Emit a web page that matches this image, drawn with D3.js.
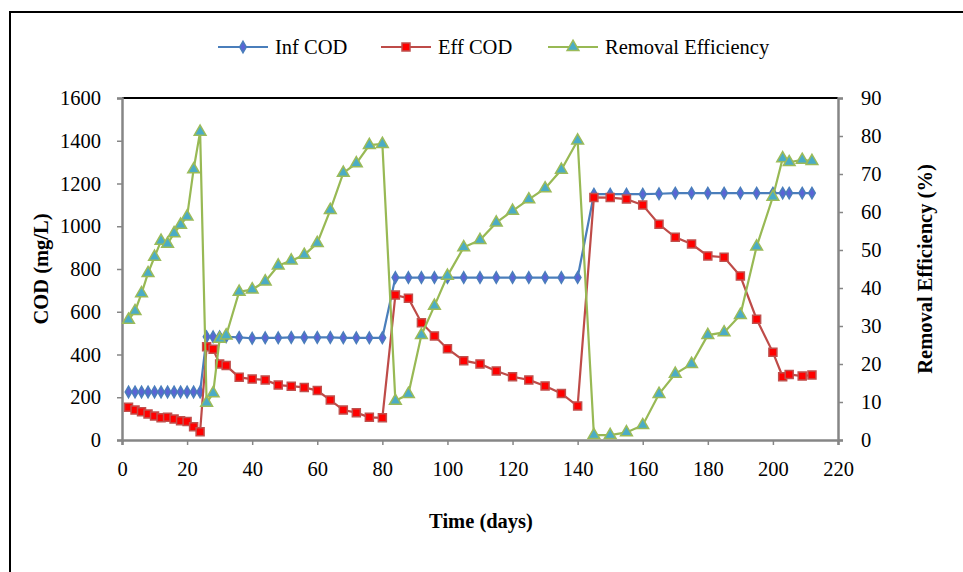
<!DOCTYPE html>
<html>
<head>
<meta charset="utf-8">
<script src="https://cdn.jsdelivr.net/npm/d3@7"></script>
<style>
  body { margin: 0; background: #fff; }
  text { font-family: "Liberation Serif", "Times New Roman", serif; }
</style>
</head>
<body>
<script>
// data
const days = [2, 4, 6, 8, 10, 12, 14, 16, 18, 20, 22, 24,
  26, 28, 30, 32, 36, 40, 44, 48, 52, 56, 60, 64, 68, 72, 76, 80,
  84, 88, 92, 96, 100, 105, 110, 115, 120, 125, 130, 135, 140,
  145, 150, 155, 160, 165, 170, 175, 180, 185, 190, 195, 200, 203, 205, 209, 212];
const infCOD = [225, 225, 225, 225, 225, 225, 225, 225, 225, 225, 225, 225,
  483, 483, 483, 483, 480, 476, 478, 478, 480, 480, 480, 480, 478, 478, 478, 478,
  760, 760, 760, 760, 760, 760, 760, 760, 760, 760, 760, 760, 760,
  1150, 1150, 1150, 1150, 1152, 1155, 1155, 1155, 1155, 1155, 1155, 1155, 1155, 1155, 1155, 1155];
const effCOD = [153, 140, 132, 122, 112, 104, 106, 98, 90, 86, 62, 39,
  436, 424, 356, 348, 293, 285, 281, 257, 252, 246, 231, 187, 140, 128, 106, 104,
  678, 663, 549, 487, 427, 371, 356, 323, 296, 281, 253, 218, 159,
  1135, 1134, 1127, 1099, 1009, 948, 917, 861, 855, 767, 565, 410, 296, 307, 299, 304];
const removal = [31.6, 33.9, 38.6, 43.9, 48.2, 52.4, 51.6, 54.4, 56.6, 58.8, 71.2, 81.1,
  9.8, 12.3, 26.6, 27.5, 39.0, 39.6, 41.7, 45.9, 47.2, 48.7, 51.8, 60.5, 70.3, 72.8, 77.6, 77.9,
  10.3, 12.1, 27.6, 35.3, 43.2, 50.7, 52.6, 57.2, 60.3, 63.3, 66.2, 71.1, 78.8,
  1.3, 1.3, 2.0, 3.9, 12.1, 17.4, 20.0, 27.6, 28.3, 32.9, 50.9, 64.0, 74.1, 73.1, 73.7, 73.4];
const xTicks = d3.range(0, 221, 20);
const yTicks = d3.range(0, 1601, 200);
const y2Ticks = d3.range(0, 91, 10);

// constants
const width = 963;
const height = 572;
const plotLeft = 122, plotRight = 838, plotTop = 98, plotBottom = 440;
const axisGrey = '#868686';
const fontSize = 20.5;

const x = d3.scaleLinear().domain([0, 220]).range([plotLeft, plotRight]);
const y = d3.scaleLinear().domain([0, 1600]).range([plotBottom, plotTop]);
const y2 = d3.scaleLinear().domain([0, 90]).range([plotBottom, plotTop]);

const svg = d3.select('body').append('svg')
  .attr('width', width)
  .attr('height', height);

// outer frame (runs off the right and bottom edges)
svg.append('rect')
  .attr('x', 10).attr('y', 12)
  .attr('width', 980).attr('height', 600)
  .attr('fill', 'none')
  .attr('stroke', '#000')
  .attr('stroke-width', 2);

// top edge of the plot area
svg.append('line')
  .attr('x1', plotLeft).attr('x2', plotRight)
  .attr('y1', plotTop).attr('y2', plotTop)
  .attr('stroke', '#000')
  .attr('stroke-width', 2);

function styleAxis(g) {
  g.selectAll('path').attr('stroke', axisGrey).attr('stroke-width', 2.5);
  g.selectAll('line').attr('stroke', axisGrey).attr('stroke-width', 1.5);
  g.selectAll('text')
    .attr('font-family', '"Liberation Serif", "Times New Roman", serif')
    .attr('font-size', fontSize)
    .attr('fill', '#000');
}

const fmt = d3.format('d');

const gx = svg.append('g')
  .attr('transform', `translate(0, ${plotBottom})`)
  .call(d3.axisBottom(x).tickValues(xTicks).tickFormat(fmt).tickSize(5).tickSizeOuter(5).tickPadding(16));
styleAxis(gx);

const gy = svg.append('g')
  .attr('transform', `translate(${plotLeft}, 0)`)
  .call(d3.axisLeft(y).tickValues(yTicks).tickFormat(fmt).tickSize(5).tickSizeOuter(5).tickPadding(16));
styleAxis(gy);

const gy2 = svg.append('g')
  .attr('transform', `translate(${plotRight}, 0)`)
  .call(d3.axisRight(y2).tickValues(y2Ticks).tickFormat(fmt).tickSize(5).tickSizeOuter(5).tickPadding(18));
styleAxis(gy2);

// axis titles
svg.append('text')
  .attr('transform', `translate(48, ${(plotTop + plotBottom) / 2}) rotate(-90)`)
  .attr('text-anchor', 'middle')
  .attr('font-size', fontSize)
  .attr('font-weight', 'bold')
  .text('COD (mg/L)');

svg.append('text')
  .attr('transform', `translate(932, ${(plotTop + plotBottom) / 2}) rotate(-90)`)
  .attr('text-anchor', 'middle')
  .attr('font-size', fontSize)
  .attr('font-weight', 'bold')
  .text('Removal Efficiency (%)');

svg.append('text')
  .attr('x', 481).attr('y', 528)
  .attr('text-anchor', 'middle')
  .attr('font-size', fontSize)
  .attr('font-weight', 'bold')
  .text('Time (days)');

// series
const series = [
  { name: 'Inf COD', values: infCOD, scale: y, line: '#4A7EBB', fill: '#5A64D6', stroke: '#4A7EBB', symbol: d3.symbolDiamond, size: 38 },
  { name: 'Eff COD', values: effCOD, scale: y, line: '#BE4B48', fill: '#FF0000', stroke: '#C0504D', symbol: d3.symbolSquare, size: 64 },
  { name: 'Removal Efficiency', values: removal, scale: y2, line: '#98B954', fill: '#4BACC6', stroke: '#9BBB59', symbol: d3.symbolTriangle, size: 60 }
];

series.forEach((s) => {
  const pts = days.map((d, i) => [d, s.values[i]]);
  const line = d3.line().x((d) => x(d[0])).y((d) => s.scale(d[1]));
  svg.append('path')
    .attr('d', line(pts))
    .attr('fill', 'none')
    .attr('stroke', s.line)
    .attr('stroke-width', 2.2);
  svg.append('g').selectAll('path')
    .data(pts)
    .join('path')
    .attr('transform', (d) => `translate(${x(d[0])}, ${s.scale(d[1])})`)
    .attr('d', d3.symbol(s.symbol, s.size))
    .attr('fill', s.fill)
    .attr('stroke', s.stroke)
    .attr('stroke-width', 1.5);
});

// legend
const legendX = [218, 381, 548];
const legend = svg.append('g');
series.forEach((s, i) => {
  const g = legend.append('g').attr('transform', `translate(${legendX[i]}, 47)`);
  g.append('line')
    .attr('x1', 0).attr('x2', 50)
    .attr('stroke', s.line)
    .attr('stroke-width', 2.2);
  g.append('path')
    .attr('transform', 'translate(25, 0)')
    .attr('d', d3.symbol(s.symbol, s.size))
    .attr('fill', s.fill)
    .attr('stroke', s.stroke)
    .attr('stroke-width', 1.5);
  g.append('text')
    .attr('x', 57)
    .attr('dy', '0.35em')
    .attr('font-size', fontSize)
    .text(s.name);
});
</script>
</body>
</html>
